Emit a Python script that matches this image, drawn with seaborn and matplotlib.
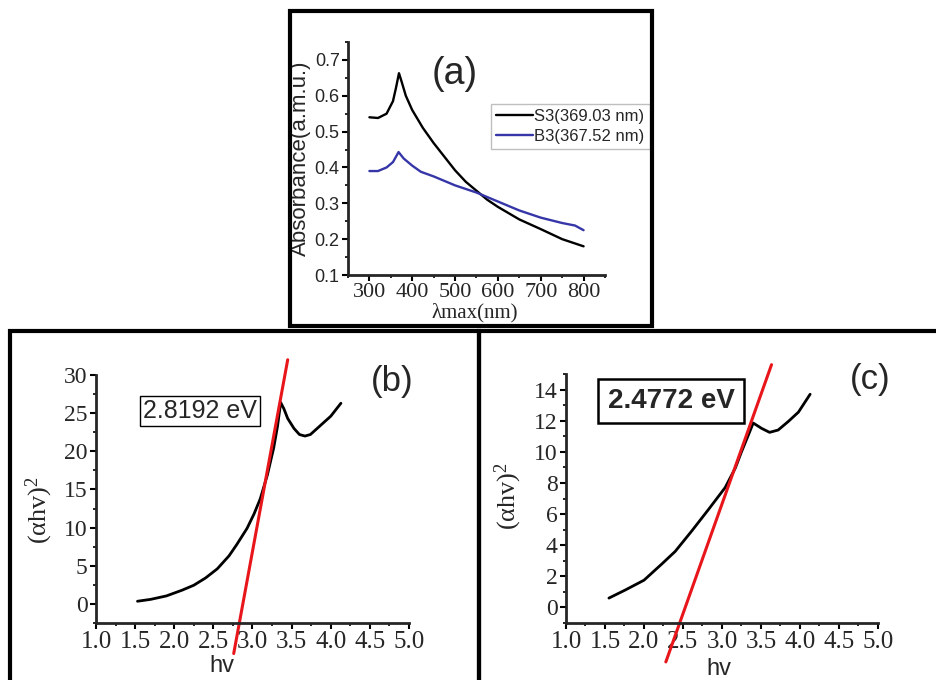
import numpy as np
import pandas as pd
import matplotlib
matplotlib.use("Agg")
import matplotlib.pyplot as plt
from matplotlib.patches import Rectangle
from matplotlib.ticker import MultipleLocator
import seaborn as sns

# ---- data ----
# (a) absorbance spectra
wl_s3 = [300, 320, 340, 355, 362, 369, 375, 385, 400, 425, 450, 475, 500, 525, 550, 575, 600, 650, 700, 750, 800]
abs_s3 = [0.54, 0.538, 0.55, 0.585, 0.622, 0.663, 0.64, 0.6, 0.56, 0.51, 0.468, 0.43, 0.392, 0.36, 0.335, 0.31, 0.29, 0.255, 0.228, 0.2, 0.18]
wl_b3 = [300, 320, 340, 355, 368, 380, 400, 420, 450, 500, 550, 600, 650, 700, 750, 780, 800]
abs_b3 = [0.39, 0.39, 0.4, 0.415, 0.443, 0.425, 0.405, 0.388, 0.375, 0.35, 0.33, 0.305, 0.28, 0.26, 0.245, 0.238, 0.225]
labels_a = ["S3(369.03 nm)", "B3(367.52 nm)"]

# (b) Tauc plot S3
hv_b = [1.53, 1.7, 1.9, 2.1, 2.25, 2.4, 2.55, 2.7, 2.8, 2.93, 3.02, 3.1, 3.19, 3.27, 3.32, 3.36,
        3.4, 3.45, 3.53, 3.6, 3.67, 3.74, 3.87, 4.0, 4.13]
ahv_b = [0.35, 0.6, 1.05, 1.8, 2.45, 3.4, 4.6, 6.3, 7.8, 9.9, 11.8, 13.8, 16.9, 20.4, 23.3, 26.4,
         25.6, 24.3, 23.0, 22.2, 22.0, 22.2, 23.4, 24.6, 26.3]
fit_b_x = [2.76, 3.45]
fit_b_y = [-6.5, 32.0]
gap_b = "2.8192 eV"

# (c) Tauc plot B3
hv_c = [1.55, 1.76, 2.0, 2.23, 2.4, 2.61, 2.82, 3.04, 3.17, 3.25, 3.34, 3.4, 3.51, 3.61, 3.72, 3.85, 3.98, 4.13]
ahv_c = [0.6, 1.12, 1.75, 2.8, 3.6, 4.9, 6.25, 7.7, 8.95, 10.0, 11.1, 11.85, 11.5, 11.25, 11.4, 11.95, 12.55, 13.7]
fit_c_x = [2.28, 3.635]
fit_c_y = [-3.5, 15.6]
gap_c = "2.4772 eV"

hv_ticks = np.arange(1.0, 5.01, 0.5)

# ---- style ----
sns.set_style("ticks")
plt.rcParams['font.family'] = ['Liberation Sans', 'DejaVu Sans']
plt.rcParams['mathtext.fontset'] = 'stix'
plt.rcParams['axes.linewidth'] = 2
plt.rcParams['xtick.direction'] = 'out'
plt.rcParams['ytick.direction'] = 'out'

W, H = 937, 680
fig = plt.figure(figsize=(W / 100, H / 100), dpi=100)


def px_axes(l, t, r, b):
    return fig.add_axes([l / W, 1 - b / H, (r - l) / W, (b - t) / H])


def px(x, y):
    return x / W, 1 - y / H


def style_axes(ax, yfont, ysize, xfont, xsize):
    sns.despine(ax=ax)
    ax.tick_params(which='major', length=4, width=1.5, color='black', pad=2)
    ax.tick_params(which='minor', length=2.5, width=1.2, color='black')
    for t in ax.get_yticklabels():
        t.set_fontfamily(yfont)
        t.set_fontsize(ysize)
    for t in ax.get_xticklabels():
        t.set_fontfamily(xfont)
        t.set_fontsize(xsize)


# ---- (a) ----
ax_a = px_axes(348, 42, 605, 275)
df_s3 = pd.DataFrame({'wl': wl_s3, 'abs': abs_s3})
df_b3 = pd.DataFrame({'wl': wl_b3, 'abs': abs_b3})
sns.lineplot(data=df_s3, x='wl', y='abs', color='black', lw=1.7, ax=ax_a, label=labels_a[0])
sns.lineplot(data=df_b3, x='wl', y='abs', color='#3636a8', lw=1.7, ax=ax_a, label=labels_a[1])
ax_a.set_xlim(250, 850)
ax_a.set_xticks([300, 400, 500, 600, 700, 800])
ax_a.xaxis.set_minor_locator(MultipleLocator(50))
ax_a.set_yticks([0.1, 0.2, 0.3, 0.4, 0.5, 0.6, 0.7])
ax_a.yaxis.set_minor_locator(MultipleLocator(0.05))
ax_a.set_ylim(0.1, 0.75)
style_axes(ax_a, 'Liberation Sans', 13, 'Liberation Serif', 16)
ax_a.set_ylabel('Absorbance(a.m.u.)', fontsize=16, va='center')
ax_a.yaxis.set_label_coords(-0.184, 0.5)
ax_a.set_xlabel('λmax(nm)', fontsize=15, fontfamily='Liberation Serif', va='center')
ax_a.xaxis.set_label_coords(0.494, -0.163)
ax_a.legend(loc='upper left', bbox_to_anchor=px(491, 104), bbox_transform=fig.transFigure,
            fontsize=12, frameon=True, fancybox=False, edgecolor='#b0b0b0',
            handlelength=2.2, handletextpad=0.1, borderpad=0.3, labelspacing=0.3,
            borderaxespad=0)
fig.text(*px(455, 74), '(a)', fontsize=27, ha='center', va='center')

# ---- (b) ----
ax_b = px_axes(96, 375, 409, 623)
df_b = pd.DataFrame({'hv': hv_b, 'ahv': ahv_b})
sns.lineplot(data=df_b, x='hv', y='ahv', color='black', lw=2, ax=ax_b, sort=False)
sns.lineplot(x=fit_b_x, y=fit_b_y, color='#e8161b', lw=2.2, ax=ax_b)
ax_b.lines[-1].set_clip_on(False)
ax_b.set_xlim(1.0, 5.0)
ax_b.set_xticks(hv_ticks)
ax_b.set_xticklabels([f'{v:.1f}' for v in hv_ticks])
ax_b.xaxis.set_minor_locator(MultipleLocator(0.25))
ax_b.set_yticks([0, 5, 10, 15, 20, 25, 30])
ax_b.yaxis.set_minor_locator(MultipleLocator(2.5))
ax_b.set_ylim(-2.5, 30)
style_axes(ax_b, 'Liberation Serif', 17, 'Liberation Serif', 18)
ax_b.set_ylabel(r'$\mathregular{(\alpha hv)^2}$', fontsize=19, fontfamily='Liberation Serif', va='center')
ax_b.yaxis.set_label_coords(-0.18, 0.455)
ax_b.set_xlabel('hv', fontsize=17, va='center')
ax_b.xaxis.set_label_coords(0.403, -0.175)
fig.text(*px(200, 411), gap_b, fontsize=18, ha='center', va='center',
         bbox=dict(boxstyle='square,pad=0.12', fc='white', ec='black', lw=1))
fig.text(*px(392, 381), '(b)', fontsize=25, ha='center', va='center')

# ---- (c) ----
ax_c = px_axes(566, 374, 878, 623)
df_c = pd.DataFrame({'hv': hv_c, 'ahv': ahv_c})
sns.lineplot(data=df_c, x='hv', y='ahv', color='black', lw=2, ax=ax_c, sort=False)
sns.lineplot(x=fit_c_x, y=fit_c_y, color='#e8161b', lw=2.2, ax=ax_c)
ax_c.lines[-1].set_clip_on(False)
ax_c.set_xlim(1.0, 5.0)
ax_c.set_xticks(hv_ticks)
ax_c.set_xticklabels([f'{v:.1f}' for v in hv_ticks])
ax_c.xaxis.set_minor_locator(MultipleLocator(0.25))
ax_c.set_yticks([0, 2, 4, 6, 8, 10, 12, 14])
ax_c.yaxis.set_minor_locator(MultipleLocator(1))
ax_c.set_ylim(-1, 15)
style_axes(ax_c, 'Liberation Serif', 17, 'Liberation Serif', 18)
ax_c.set_ylabel(r'$\mathregular{(\alpha hv)^2}$', fontsize=19, fontfamily='Liberation Serif', va='center')
ax_c.yaxis.set_label_coords(-0.185, 0.51)
ax_c.set_xlabel('hv', fontsize=17, va='center')
ax_c.xaxis.set_label_coords(0.49, -0.185)
fig.text(*px(671, 401), gap_c, fontsize=20, fontweight='bold', ha='center', va='center',
         bbox=dict(boxstyle='square,pad=0.33', fc='white', ec='black', lw=1.8))
fig.text(*px(870, 380), '(c)', fontsize=25, ha='center', va='center')

# ---- panel frames ----
for (l, t, r, b) in [(290, 11, 652, 326), (10, 331, 479, 720), (479, 331, 960, 720)]:
    fig.add_artist(Rectangle(px(l, b), (r - l) / W, (b - t) / H, transform=fig.transFigure,
                             fill=False, ec='black', lw=3, clip_on=False))

fig.savefig('out.png', dpi=100)
